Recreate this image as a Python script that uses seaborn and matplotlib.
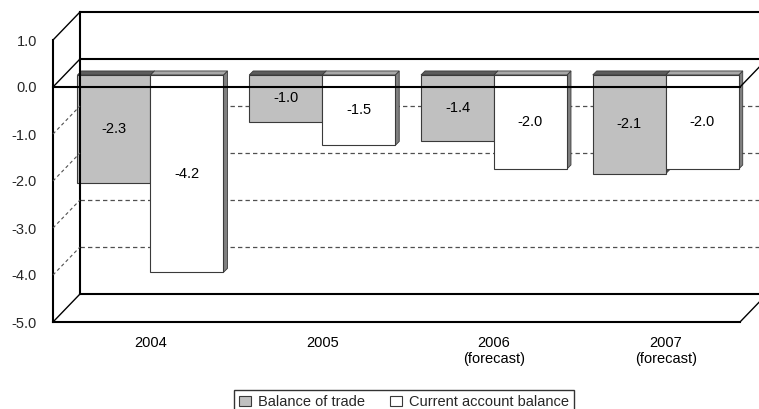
import numpy as np
import pandas as pd
import seaborn as sns
import matplotlib
matplotlib.use("Agg")
import matplotlib.pyplot as plt
from matplotlib.lines import Line2D
from matplotlib.patches import Polygon, Patch
from matplotlib.transforms import IdentityTransform

# ---------------- data ----------------
years = ["2004", "2005", "2006", "2007"]
year_labels = ["2004", "2005", "2006\n(forecast)", "2007\n(forecast)"]
series = ["Balance of trade", "Current account balance"]
trade = [-2.3, -1.0, -1.4, -2.1]
current = [-4.2, -1.5, -2.0, -2.0]
y_ticks = [-5, -4, -3, -2, -1, 0, 1]

sns.set_theme(style="white")
plt.rcParams["font.family"] = ["Liberation Sans", "DejaVu Sans"]
FS = 10.5

W, H = 759, 409
fig = plt.figure(figsize=(W / 100, H / 100), dpi=100)


def fx(px):
    return px / W


def fy(py):
    return 1 - py / H


def axrect(x0, y_top, x1, y_bot):
    return [fx(x0), fy(y_bot), fx(x1) - fx(x0), fy(y_top) - fy(y_bot)]


# ---------------- 3D frame geometry (pixels) ----------------
FL, FR = 53, 740      # front plane x extent
DX, DY = 27, -28      # depth offset front -> back
PPU = 47              # pixels per unit
F0 = 87               # front zero line y
VMIN, VMAX = -5, 1
BAR_DEPTH = 0.43      # where bars sit between front and back


def front_y(v):
    return F0 - PPU * v


def back_y(v):
    return F0 + DY - PPU * v


def fline(p0, p1, lw=1.5, color="black", ls="-", z=3):
    fig.add_artist(Line2D([fx(p0[0]), fx(p1[0])], [fy(p0[1]), fy(p1[1])],
                          transform=fig.transFigure, lw=lw, color=color,
                          linestyle=ls, zorder=z, solid_capstyle="projecting"))


# back wall axes with dashed gridlines
ax_back = fig.add_axes(axrect(FL + DX, back_y(VMAX), FR + DX, back_y(VMIN)))
ax_back.set_ylim(VMIN, VMAX)
ax_back.set_xlim(0, 1)
ax_back.set_axis_off()
for v in y_ticks:
    if VMIN < v < 0:
        ax_back.axhline(v, color="#505050", lw=0.9, linestyle=(0, (3.5, 2.5)))

# bars axes
bx0 = FL + DX * BAR_DEPTH
bx1 = FR + DX * BAR_DEPTH
bzero = F0 + DY * BAR_DEPTH
ax_bar = fig.add_axes(axrect(bx0, bzero - PPU * VMAX, bx1, bzero - PPU * VMIN))
df = pd.DataFrame({
    "Year": years * 2,
    "Series": [series[0]] * len(years) + [series[1]] * len(years),
    "Value": trade + current,
})
sns.barplot(data=df, x="Year", y="Value", hue="Series",
            palette=["#C0C0C0", "#FFFFFF"], saturation=1, width=0.85,
            edgecolor="#3a3a3a", linewidth=0.8, ax=ax_bar, legend=False,
            errorbar=None)
ax_bar.set_xlim(-0.5, len(years) - 0.5)
ax_bar.set_ylim(VMIN, VMAX)
ax_bar.patch.set_alpha(0)
for s in ax_bar.spines.values():
    s.set_visible(False)
ax_bar.set_yticks([])
ax_bar.set_xticks(range(len(years)))
ax_bar.set_xticklabels(year_labels, fontsize=FS, color="black", linespacing=1.15)
ax_bar.tick_params(axis="x", length=0, pad=19)
ax_bar.set_xlabel("")
ax_bar.set_ylabel("")

# 3D faces of bars
T = ax_bar.transData
face_cols = [("#5c5c5c", "#4a4a4a"), ("#a8a8a8", "#808080")]
d = 4
for ci, cont in enumerate(ax_bar.containers):
    top_c, side_c = face_cols[ci]
    for p in cont.patches:
        x0 = p.get_x()
        w = p.get_width()
        h = p.get_height()
        (X0, Y0) = T.transform((x0, 0))
        (X1, YB) = T.transform((x0 + w, h))
        top = [(X0, Y0), (X1, Y0), (X1 + d, Y0 + d), (X0 + d, Y0 + d)]
        side = [(X1, Y0), (X1 + d, Y0 + d), (X1 + d, YB + d), (X1, YB)]
        for verts, col in ((side, side_c), (top, top_c)):
            ax_bar.add_patch(Polygon(verts, closed=True, facecolor=col,
                                     edgecolor="#3a3a3a", lw=0.6,
                                     transform=IdentityTransform(),
                                     zorder=0.9, clip_on=False))
    ax_bar.bar_label(cont, fmt="%.1f", label_type="center", fontsize=FS,
                     color="black")

# front axis tick labels
ax_front = fig.add_axes(axrect(FL, front_y(VMAX), FL + 1, front_y(VMIN)))
ax_front.set_ylim(VMIN, VMAX)
ax_front.set_xticks([])
ax_front.set_yticks(y_ticks)
ax_front.set_yticklabels([f"{v:.1f}" for v in y_ticks], fontsize=FS)
ax_front.tick_params(axis="y", length=0, pad=11.5)
ax_front.set_frame_on(False)
ax_front.patch.set_alpha(0)

# frame lines
fline((FL + DX, back_y(VMAX)), (FR + DX, back_y(VMAX)))
fline((FL + DX, back_y(VMAX)), (FL + DX, back_y(VMIN)))
fline((FL + DX, back_y(VMIN)), (FR + DX, back_y(VMIN)))
fline((FL + DX, back_y(0)), (FR + DX, back_y(0)))
fline((FL, front_y(VMAX)), (FL, front_y(VMIN)))
fline((FL, front_y(VMIN)), (FR, front_y(VMIN)))
fline((FL, front_y(0)), (FR, front_y(0)), z=5)
for v in y_ticks:
    if v in (VMAX, 0, VMIN):
        fline((FL, front_y(v)), (FL + DX, back_y(v)), lw=1.0)
    else:
        fline((FL, front_y(v)), (FL + DX, back_y(v)), lw=0.8,
              color="#505050", ls=(0, (3, 2.5)))
for v in (0, VMIN):
    fline((FR, front_y(v)), (FR + DX, back_y(v)), lw=1.0, z=5)

# legend
handles = [Patch(facecolor="#C0C0C0", edgecolor="#3a3a3a", lw=0.8),
           Patch(facecolor="#FFFFFF", edgecolor="#3a3a3a", lw=0.8)]
leg = fig.legend(handles, series, loc="upper center",
                 bbox_to_anchor=(fx(404), fy(390)), ncol=2, frameon=True,
                 fancybox=False, edgecolor="black", fontsize=FS,
                 handlelength=0.8, handleheight=0.6, handletextpad=0.5,
                 columnspacing=1.7, borderpad=0.35, borderaxespad=0)
leg.get_frame().set_linewidth(1.0)

fig.savefig("out.png", dpi=100)
